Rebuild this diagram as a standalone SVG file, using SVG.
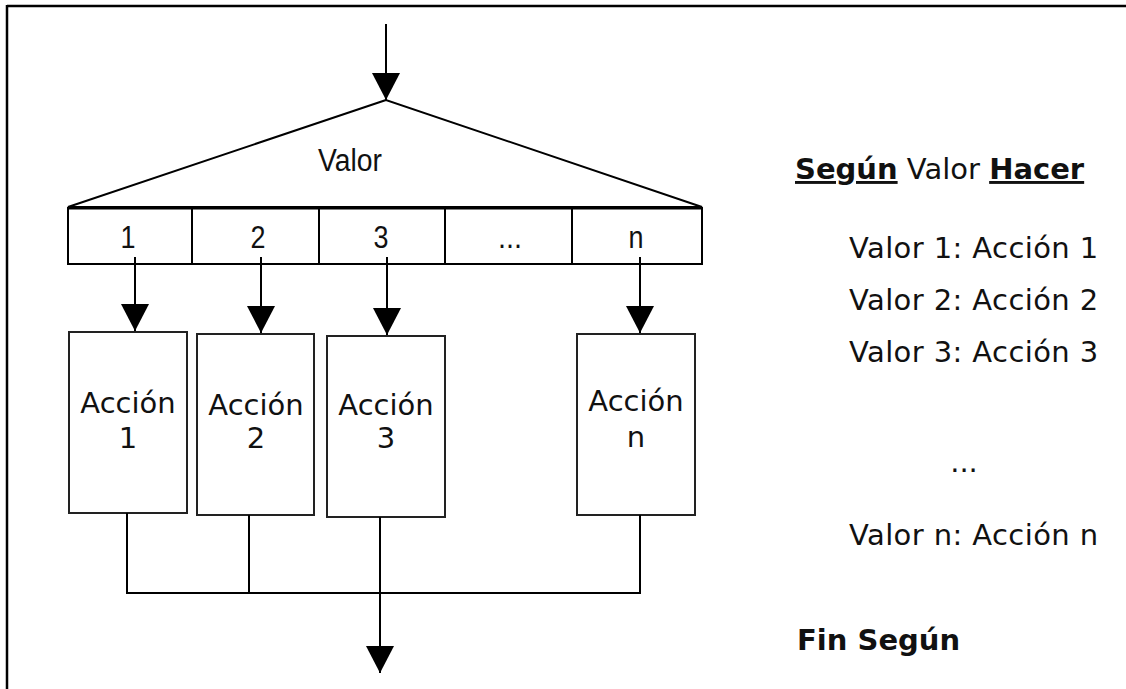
<svg xmlns="http://www.w3.org/2000/svg" width="1126" height="689" viewBox="0 0 1126 689">
<style>
.ln{stroke:#000;stroke-width:2;fill:none}
.bx{stroke:#222;stroke-width:2;fill:#fff}
.narrow{font-family:"Liberation Sans",Arial,sans-serif;font-size:31px;fill:#111;text-anchor:middle}
.act{font-family:"DejaVu Sans",Verdana,sans-serif;font-size:29px;fill:#111;text-anchor:middle}
.code{font-family:"DejaVu Sans",Verdana,sans-serif;font-size:29px;fill:#111}
.ls{letter-spacing:0.4px}
.b{font-weight:bold}
</style>
<defs>
<marker id="ah" markerUnits="userSpaceOnUse" markerWidth="28" markerHeight="28" viewBox="0 0 28 28" refX="27" refY="14" orient="auto">
<path d="M0,0 L27,14 L0,28 Z" fill="#000"/>
</marker>
</defs>
<rect width="1126" height="689" fill="#fff"/>
<g id="frame">
<line x1="7" y1="6" x2="1126" y2="6" stroke="#000" stroke-width="2.5"/>
<line x1="7" y1="5" x2="7" y2="689" stroke="#000" stroke-width="2.5"/>
</g>
<g id="selector">
<polygon points="386,100 68,207 702,207" class="ln" fill="#fff"/>
<text x="350" y="171" class="narrow" font-size="28" textLength="64" lengthAdjust="spacingAndGlyphs">Valor</text>
<rect x="68" y="208" width="634" height="56" class="ln"/>
<line x1="68" y1="208" x2="702" y2="208" stroke="#000" stroke-width="3"/>
<line x1="192" y1="208" x2="192" y2="264" class="ln"/>
<line x1="319" y1="208" x2="319" y2="264" class="ln"/>
<line x1="445" y1="208" x2="445" y2="264" class="ln"/>
<line x1="572" y1="208" x2="572" y2="264" class="ln"/>
<text x="128" y="248" class="narrow" textLength="15" lengthAdjust="spacingAndGlyphs">1</text>
<text x="258" y="248" class="narrow" textLength="15" lengthAdjust="spacingAndGlyphs">2</text>
<text x="381" y="248" class="narrow" textLength="15" lengthAdjust="spacingAndGlyphs">3</text>
<text x="510" y="248" class="narrow" textLength="24" lengthAdjust="spacingAndGlyphs">...</text>
<text x="636" y="248" class="narrow" textLength="15" lengthAdjust="spacingAndGlyphs">n</text>
</g>
<g id="accion1">
<rect x="69" y="332" width="118" height="181" class="bx"/>
<text x="128" y="413" class="act">Acción</text>
<text x="128" y="448" class="act">1</text>
</g>
<g id="accion2">
<rect x="197" y="334" width="117" height="181" class="bx"/>
<text x="256" y="415" class="act">Acción</text>
<text x="256" y="448" class="act">2</text>
</g>
<g id="accion3">
<rect x="327" y="336" width="118" height="181" class="bx"/>
<text x="386" y="415" class="act">Acción</text>
<text x="386" y="448" class="act">3</text>
</g>
<g id="accionn">
<rect x="577" y="334" width="118" height="181" class="bx"/>
<text x="636" y="411" class="act">Acción</text>
<text x="636" y="447" class="act">n</text>
</g>
<g id="connectors">
<line x1="386" y1="24" x2="386" y2="100" class="ln" marker-end="url(#ah)"/>
<line x1="135" y1="257" x2="135" y2="331" class="ln" marker-end="url(#ah)"/>
<line x1="261" y1="257" x2="261" y2="333" class="ln" marker-end="url(#ah)"/>
<line x1="387" y1="257" x2="387" y2="335" class="ln" marker-end="url(#ah)"/>
<line x1="640" y1="257" x2="640" y2="333" class="ln" marker-end="url(#ah)"/>
<polyline points="127,513 127,593 640,593 640,515" class="ln"/>
<line x1="249" y1="515" x2="249" y2="593" class="ln"/>
<line x1="380" y1="517" x2="380" y2="673" class="ln" marker-end="url(#ah)"/>
</g>
<g id="pseudocode">
<text x="795" y="179" class="code"><tspan class="b" text-decoration="underline">Según</tspan> Valor <tspan class="b" text-decoration="underline">Hacer</tspan></text>
<text x="849" y="258" class="code ls">Valor 1: Acción 1</text>
<text x="849" y="310" class="code ls">Valor 2: Acción 2</text>
<text x="849" y="362" class="code ls">Valor 3: Acción 3</text>
<text x="964" y="472" class="code" text-anchor="middle">...</text>
<text x="849" y="545" class="code ls">Valor n: Acción n</text>
<text x="797" y="650" class="code b">Fin Según</text>
</g>
</svg>
